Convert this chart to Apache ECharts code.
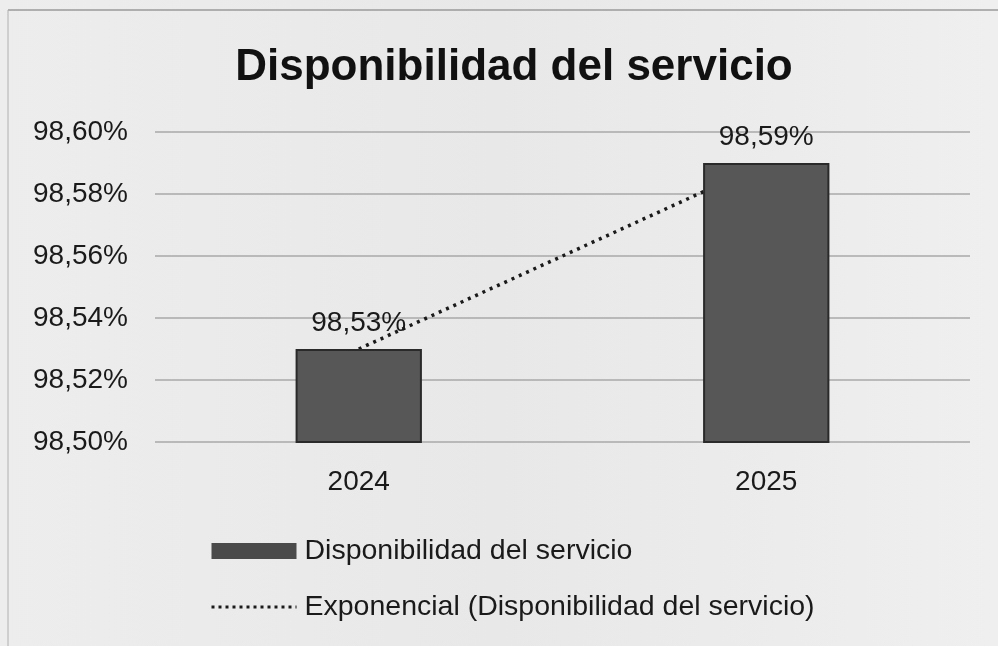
<!DOCTYPE html>
<html>
<head>
<meta charset="utf-8">
<script src="https://cdn.jsdelivr.net/npm/echarts@6/dist/echarts.min.js"></script>
<style>
html,body{margin:0;padding:0;background:#e9e9e9;}
#chart{width:998px;height:646px;}
</style>
</head>
<body>
<div id="chart"></div>
<script>
var categories = ['2024', '2025'];
var disponibilidad = [98.53, 98.59];
var tendencia = [98.53, 98.59];
var titleText = 'Disponibilidad del servicio';
var barName = 'Disponibilidad del servicio';
var trendName = 'Exponencial (Disponibilidad del servicio)';

function fmt(v) {
  return v.toFixed(2).replace('.', ',') + '%';
}

var chart = echarts.init(document.getElementById('chart'));
var FONT = '"Liberation Sans", Arial, sans-serif';
chart.setOption({
  backgroundColor: {
    type: 'linear', x: 0, y: 0, x2: 1, y2: 0,
    colorStops: [
      {offset: 0, color: '#ededed'},
      {offset: 0.5, color: '#e8e8e8'},
      {offset: 1, color: '#efefef'}
    ]
  },
  graphic: [
    {type: 'line', shape: {x1: 8, y1: 10, x2: 998, y2: 10}, style: {stroke: '#9a9a9a', lineWidth: 1.5}},
    {type: 'line', shape: {x1: 8, y1: 10, x2: 8, y2: 646}, style: {stroke: '#b0b0b0', lineWidth: 1}}
  ],
  title: {
    text: titleText,
    left: 509,
    textAlign: 'center',
    top: 41,
    textStyle: {fontFamily: FONT, fontWeight: 'bold', fontSize: 44, color: '#111'}
  },
  legend: {
    orient: 'vertical',
    left: 205,
    top: 530,
    itemGap: 24,
    itemWidth: 85,
    itemHeight: 16,
    data: [
      {name: barName, icon: 'rect', itemStyle: {color: '#4a4a4a', borderWidth: 0}},
      {name: trendName, itemStyle: {opacity: 0}, lineStyle: {width: 3, type: [3, 4], color: '#1a1a1a'}}
    ],
    textStyle: {fontFamily: FONT, fontSize: 28.5, color: '#1a1a1a', lineHeight: 32, padding: [0, 0, 0, 3]}
  },
  grid: {left: 155, right: 28, top: 132, bottom: 204},
  xAxis: {
    type: 'category',
    data: categories,
    axisLine: {show: false},
    axisTick: {show: false},
    axisLabel: {fontFamily: FONT, fontSize: 28, color: '#1a1a1a', margin: 26}
  },
  yAxis: {
    type: 'value',
    min: 98.5,
    max: 98.6,
    interval: 0.02,
    axisLine: {show: false},
    axisTick: {show: false},
    splitLine: {lineStyle: {color: '#a8a8a8', width: 1.5}},
    axisLabel: {fontFamily: FONT, fontSize: 28, color: '#1a1a1a', margin: 27, formatter: fmt}
  },
  series: [
    {
      name: trendName,
      type: 'line',
      data: tendencia,
      symbol: 'none',
      z: 1,
      lineStyle: {color: '#1a1a1a', width: 3.5, type: [3, 5]},
      itemStyle: {color: '#1a1a1a'}
    },
    {
      name: barName,
      type: 'bar',
      data: disponibilidad,
      barWidth: '31%',
      z: 3,
      itemStyle: {color: '#575757', borderColor: '#2a2a2a', borderWidth: 2},
      label: {
        show: true,
        position: 'top',
        distance: 12,
        formatter: function (p) { return fmt(p.value); },
        fontFamily: FONT, fontSize: 28, color: '#1a1a1a'
      }
    }
  ]
});
</script>
</body>
</html>
